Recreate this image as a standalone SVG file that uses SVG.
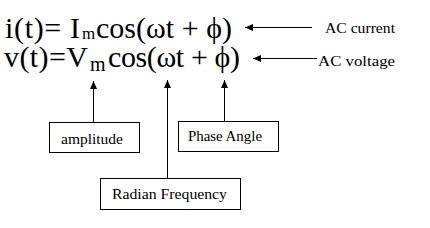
<svg xmlns="http://www.w3.org/2000/svg" width="430" height="228" viewBox="0 0 430 228">
<style>
.eq{font-family:"Liberation Serif","Times New Roman",serif;font-size:30px;fill:#000}
.sub1{font-size:17px}
.sub2{font-size:20px}
.lbl{font-family:"Liberation Serif","Times New Roman",serif;font-size:15px;fill:#000}
.box{fill:#fff;stroke:#000;stroke-width:1}
.ln{stroke:#000;stroke-width:1;fill:none}
</style>
<defs>
<marker id="ah" viewBox="0 0 8 8" refX="8" refY="4" markerWidth="8" markerHeight="8" markerUnits="userSpaceOnUse" orient="auto">
<path d="M0,0.5 L8,4 L0,7.5 z" fill="#000"/>
</marker>
</defs>
<g id="eq-current">
<text class="eq" x="5" y="38" textLength="75" lengthAdjust="spacing">i(t)= I</text>
<text class="eq sub1" x="82" y="39">m</text>
<text class="eq" x="96" y="38" textLength="136" lengthAdjust="spacing">cos(ωt + ϕ)</text>
</g>
<g id="eq-voltage">
<text class="eq" x="4" y="67" textLength="84" lengthAdjust="spacing">v(t)=V</text>
<text class="eq sub2" x="90" y="71">m</text>
<text class="eq" x="108" y="67" textLength="132" lengthAdjust="spacing">cos(ωt + ϕ)</text>
</g>
<g id="label-current"><text class="lbl" x="325" y="32.5" textLength="70" lengthAdjust="spacingAndGlyphs">AC current</text></g>
<g id="label-voltage"><text class="lbl" x="318" y="65.5" textLength="77" lengthAdjust="spacingAndGlyphs">AC voltage</text></g>
<g id="amplitude"><rect class="box" x="49.5" y="122.5" width="90" height="30"/><text class="lbl" x="61" y="144" textLength="62" lengthAdjust="spacingAndGlyphs">amplitude</text></g>
<g id="phase"><rect class="box" x="178.5" y="121.5" width="100" height="30"/><text class="lbl" x="188" y="141" textLength="74" lengthAdjust="spacingAndGlyphs">Phase Angle</text></g>
<g id="radian"><rect class="box" x="100.5" y="178.5" width="140" height="31"/><text class="lbl" x="112" y="198.5" textLength="115" lengthAdjust="spacingAndGlyphs">Radian Frequency</text></g>
<g id="connectors">
<line class="ln" x1="312" y1="27.5" x2="245" y2="27.5" marker-end="url(#ah)"/>
<line class="ln" x1="317" y1="58.5" x2="253" y2="58.5" marker-end="url(#ah)"/>
<line class="ln" x1="93.5" y1="122" x2="93.5" y2="81" marker-end="url(#ah)"/>
<line class="ln" x1="167.5" y1="178" x2="167.5" y2="80" marker-end="url(#ah)"/>
<line class="ln" x1="224.5" y1="121" x2="224.5" y2="80" marker-end="url(#ah)"/>
</g>
</svg>
